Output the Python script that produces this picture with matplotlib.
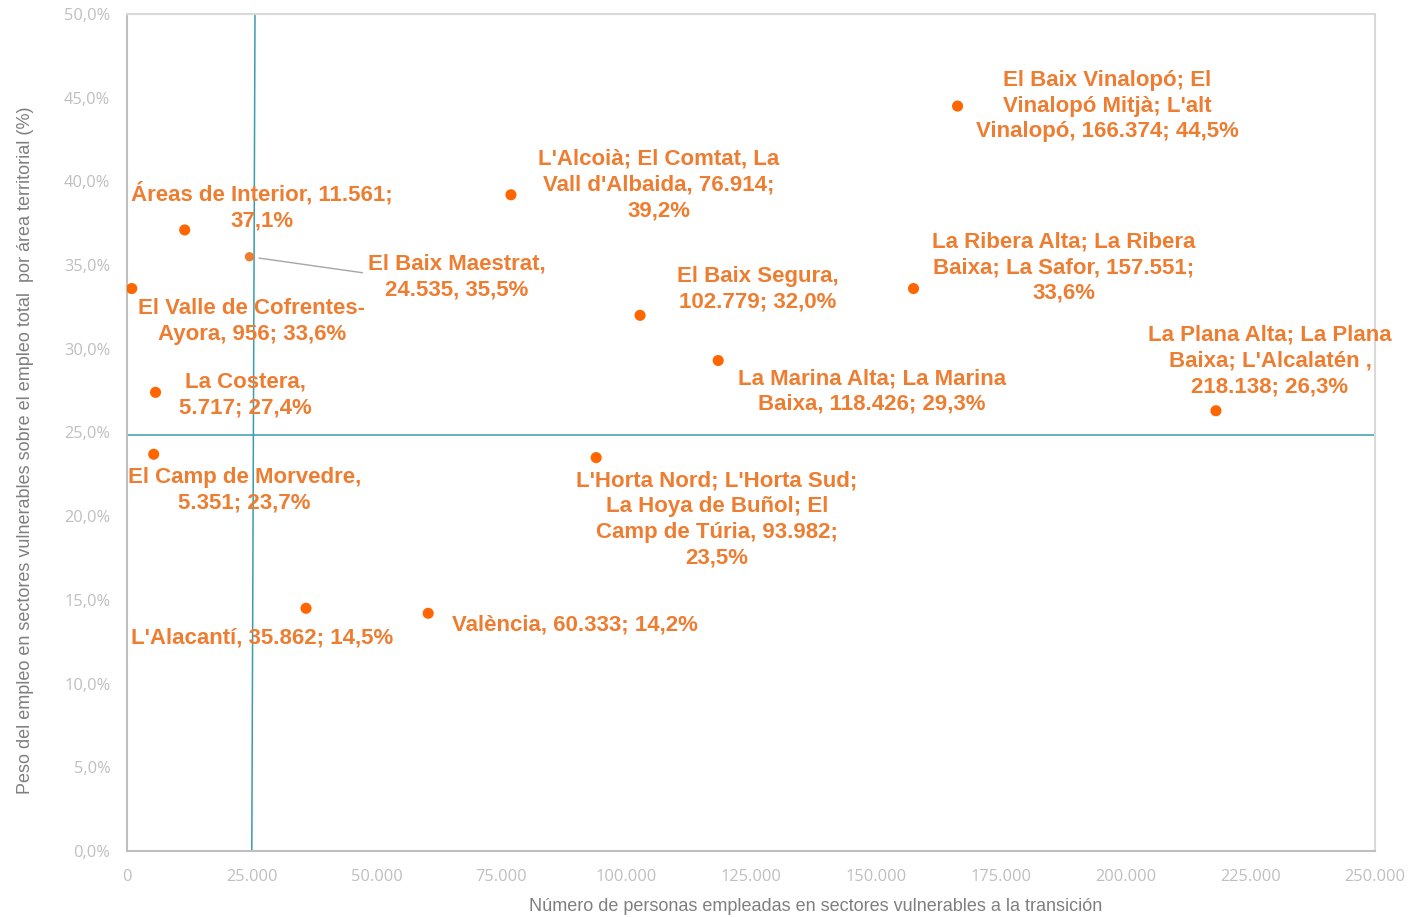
# -*- coding: utf-8 -*-
"""
Scatter: employment in sectors vulnerable to the transition by territorial area
"""

import matplotlib.pyplot as plt
from matplotlib.ticker import FuncFormatter

# data: label text, number of people employed, share of employment (%)
areas = [
    "El Baix Vinalopó; El\nVinalopó Mitjà; L'alt\nVinalopó, 166.374; 44,5%",
    "L'Alcoià; El Comtat, La\nVall d'Albaida, 76.914;\n39,2%",
    "Áreas de Interior, 11.561;\n37,1%",
    "El Baix Maestrat,\n24.535, 35,5%",
    "El Valle de Cofrentes-\nAyora, 956; 33,6%",
    "La Costera,\n5.717; 27,4%",
    "El Camp de Morvedre,\n5.351; 23,7%",
    "L'Horta Nord; L'Horta Sud;\nLa Hoya de Buñol; El\nCamp de Túria, 93.982;\n23,5%",
    "El Baix Segura,\n102.779; 32,0%",
    "La Marina Alta; La Marina\nBaixa, 118.426; 29,3%",
    "La Ribera Alta; La Ribera\nBaixa; La Safor, 157.551;\n33,6%",
    "La Plana Alta; La Plana\nBaixa; L'Alcalatén ,\n218.138; 26,3%",
    "L'Alacantí, 35.862; 14,5%",
    "València, 60.333; 14,2%",
]
employed = [166374, 76914, 11561, 24535, 956, 5717, 5351, 93982,
            102779, 118426, 157551, 218138, 35862, 60333]
share = [44.5, 39.2, 37.1, 35.5, 33.6, 27.4, 23.7, 23.5,
         32.0, 29.3, 33.6, 26.3, 14.5, 14.2]

# reference lines (the vertical one is slightly slanted in the original)
vline_x = [25000, 25640]
vline_y = [0, 50]
hline_y = 24.85

# label offsets in pixels from each point
offsets = [(150, 0), (148, 10), (77, 23), (207, -20), (120, -33), (90, -3),
           (91, -36), (121, -62), (118, 26), (154, -31), (150, 21), (54, 50),
           (-44, -30), (147, -12)]

orange_pt = '#FF6600'
orange_txt = '#ED7D31'
teal = '#3A9DAB'
grey_tick = '#BFBFBF'

fig = plt.figure(figsize=(14.09, 9.17), dpi=100)
ax = fig.add_axes([127/1409, 1-851/917, 1248/1409, 837/917])

ax.plot(vline_x, vline_y, color=teal, lw=1.1, zorder=1)
ax.axhline(hline_y, color=teal, lw=1.1, zorder=1)

sizes = [64] * len(employed)
colors = [orange_pt] * len(employed)
sizes[3] = 45
colors[3] = orange_txt
ax.scatter(employed, share, s=sizes, c=colors, zorder=3, linewidths=0)

for i, txt in enumerate(areas):
    ax.annotate(txt, (employed[i], share[i]), xytext=offsets[i],
                textcoords='offset pixels', ha='center', va='center',
                fontsize=16, fontweight='bold', color=orange_txt,
                family='Liberation Sans', linespacing=1.3, zorder=4)

# leader line for El Baix Maestrat
ax.annotate('', (employed[3], share[3]), xytext=(113, -16),
            textcoords='offset pixels',
            arrowprops=dict(arrowstyle='-', color='#A6A6A6', lw=1,
                            shrinkA=0, shrinkB=7))

ax.set_xlim(0, 250000)
ax.set_ylim(0, 50)
ax.set_xticks(range(0, 250001, 25000))
ax.set_yticks(range(0, 51, 5))
ax.xaxis.set_major_formatter(FuncFormatter(lambda v, p: f"{int(v):,}".replace(',', '.')))
ax.yaxis.set_major_formatter(FuncFormatter(lambda v, p: f"{v:.1f}%".replace('.', ',')))
ax.tick_params(length=0, labelsize=11.8, labelcolor=grey_tick)
ax.tick_params(axis='x', pad=13)
ax.tick_params(axis='y', pad=12)
for lab in ax.get_xticklabels() + ax.get_yticklabels():
    lab.set_family('Open Sans')

for side in ['left', 'bottom']:
    ax.spines[side].set_color('#BFBFBF')
    ax.spines[side].set_linewidth(1.5)
for side in ['top', 'right']:
    ax.spines[side].set_color('#D9D9D9')
    ax.spines[side].set_linewidth(1.5)

ax.set_xlabel('Número de personas empleadas en sectores vulnerables a la transición',
              fontsize=13, color='#7F7F7F', family='Liberation Sans')
ax.set_ylabel('Peso del empleo en sectores vulnerables sobre el empleo total  por área territorial (%)',
              fontsize=13, color='#7F7F7F', family='Liberation Sans')
# the titles are not centred on the plot area in the original
ax.xaxis.set_label_coords(0.552, -0.056)
ax.yaxis.set_label_coords(-0.0745, 0.479)

plt.savefig('out.png', dpi=100)
